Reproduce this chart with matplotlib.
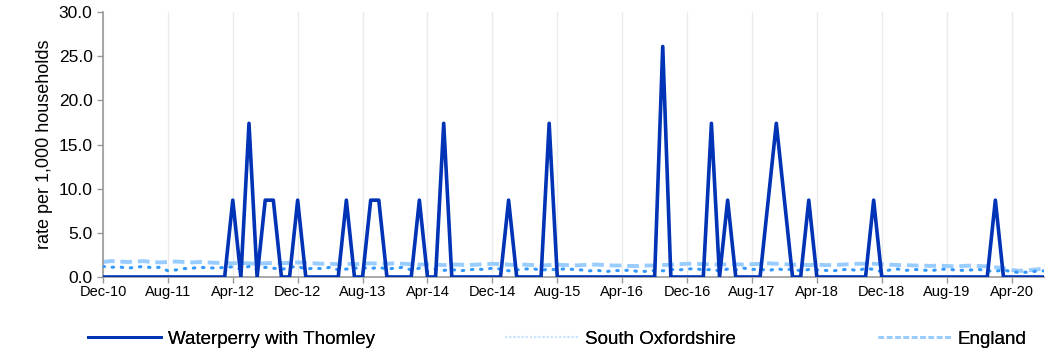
import numpy as np
import matplotlib.pyplot as plt
from matplotlib.lines import Line2D

plt.rcParams['font.family'] = ['Liberation Sans', 'DejaVu Sans']

# monthly series, Dec-10 .. Aug-20
tick_labels = ['Dec-10', 'Aug-11', 'Apr-12', 'Dec-12', 'Aug-13', 'Apr-14', 'Dec-14', 'Aug-15',
               'Apr-16', 'Dec-16', 'Aug-17', 'Apr-18', 'Dec-18', 'Aug-19', 'Apr-20']

waterperry = [
    0, 0, 0, 0, 0, 0, 0, 0, 0, 0, 0, 0,
    0, 0, 0, 0, 8.7, 0, 17.4, 0, 8.7, 8.7, 0, 0,
    8.7, 0, 0, 0, 0, 0, 8.7, 0, 0, 8.7, 8.7, 0,
    0, 0, 0, 8.7, 0, 0, 17.4, 0, 0, 0, 0, 0,
    0, 0, 8.7, 0, 0, 0, 0, 17.4, 0, 0, 0, 0,
    0, 0, 0, 0, 0, 0, 0, 0, 0, 26.1, 0, 0,
    0, 0, 0, 17.4, 0, 8.7, 0, 0, 0, 0, 8.7, 17.4,
    8.7, 0, 0, 8.7, 0, 0, 0, 0, 0, 0, 0, 8.7,
    0, 0, 0, 0, 0, 0, 0, 0, 0, 0, 0, 0,
    0, 0, 8.7, 0, 0, 0, 0, 0, 0,
]

south_oxon = [
    1.2, 1.1, 1.15, 1.0, 1.1, 1.2, 1.05, 1.1, 0.7, 0.8, 0.95, 1.0,
    1.1, 1.05, 1.0, 1.1, 1.15, 0.9, 1.2, 0.8, 1.1, 1.0, 0.85, 1.1,
    1.2, 0.9, 1.0, 0.95, 1.1, 0.8, 0.9, 1.0, 1.05, 0.95, 1.1, 0.9,
    1.0, 1.1, 0.8, 1.0, 0.6, 0.9, 0.75, 0.85, 0.7, 0.8, 0.9, 0.85,
    1.0, 0.9, 0.7, 0.8, 0.9, 0.95, 0.75, 0.9, 0.8, 0.95, 0.85, 0.8,
    0.7, 0.75, 0.6, 0.75, 0.7, 0.8, 0.6, 0.65, 0.75, 0.7, 0.85, 0.8,
    0.9, 0.95, 0.8, 0.85, 0.7, 0.9, 0.8, 1.0, 0.85, 0.9, 0.7, 0.95,
    0.8, 0.9, 0.7, 0.85, 0.8, 0.75, 0.7, 0.8, 0.9, 0.7, 1.0, 0.85,
    0.6, 0.8, 0.9, 0.75, 0.85, 0.8, 0.7, 0.85, 0.9, 0.8, 0.75, 0.8,
    0.85, 0.7, 0.65, 0.8, 0.6, 0.5, 0.55, 0.65, 0.7,
]

england = [
    1.7, 1.8, 1.75, 1.7, 1.75, 1.8, 1.7, 1.65, 1.7, 1.75, 1.7, 1.65,
    1.7, 1.65, 1.6, 1.6, 1.55, 1.6, 1.55, 1.5, 1.55, 1.6, 1.55, 1.6,
    1.65, 1.6, 1.55, 1.5, 1.5, 1.45, 1.5, 1.45, 1.5, 1.55, 1.5, 1.5,
    1.55, 1.5, 1.45, 1.4, 1.45, 1.4, 1.35, 1.4, 1.4, 1.35, 1.4, 1.45,
    1.5, 1.45, 1.4, 1.35, 1.4, 1.35, 1.3, 1.35, 1.4, 1.35, 1.3, 1.35,
    1.4, 1.4, 1.35, 1.3, 1.3, 1.25, 1.25, 1.3, 1.3, 1.35, 1.4, 1.45,
    1.5, 1.5, 1.45, 1.45, 1.4, 1.45, 1.45, 1.4, 1.45, 1.5, 1.55, 1.5,
    1.45, 1.4, 1.4, 1.35, 1.4, 1.35, 1.35, 1.4, 1.45, 1.5, 1.5, 1.5,
    1.45, 1.4, 1.35, 1.35, 1.3, 1.3, 1.25, 1.3, 1.25, 1.2, 1.25, 1.3,
    1.25, 1.2, 1.1, 1.0, 0.8, 0.7, 0.75, 0.85, 0.95,
]

x = np.arange(len(waterperry))

fig = plt.figure(figsize=(10.55, 3.54), dpi=100)
ax = fig.add_axes([0.0976, 0.2175, 0.892, 0.7485])

ax.plot(x, england, color='#99ccff', lw=2.8, ls=(0, (3, 1.5)), zorder=2)
ax.plot(x, south_oxon, color='#3399ff', lw=2.2, ls=(0, (0.5, 2.5)), dash_capstyle='round', zorder=3)
ax.plot(x, waterperry, color='#0033b5', lw=2.6, zorder=4)

ax.set_xlim(0, len(x) - 1)
ax.set_ylim(0, 30)
ax.set_yticks(np.arange(0, 31, 5))
ax.set_yticklabels(['%.1f' % v for v in np.arange(0, 31, 5)], fontsize=12.5)
ax.set_xticks(np.arange(0, len(x), 8))
ax.set_xticklabels(tick_labels, fontsize=10.5)
ax.set_ylabel('rate per 1,000 households', fontsize=13)

ax.grid(axis='x', color='#ebebeb', lw=1)
ax.set_axisbelow(True)
for s in ['top', 'right']:
    ax.spines[s].set_visible(False)
for s in ['left', 'bottom']:
    ax.spines[s].set_color('#999999')
    ax.spines[s].set_linewidth(1.2)
ax.tick_params(axis='both', colors='#999999', labelcolor='black', length=4, width=1)
ax.tick_params(axis='x', pad=2)

# legend entries placed individually along the bottom
labels = ['Waterperry with Thomley', 'South Oxfordshire', 'England']
handles = [
    Line2D([], [], color='#0033b5', lw=2),
    Line2D([], [], color='#cce4ff', lw=1.5, ls=(0, (1, 1))),
    Line2D([], [], color='#99ccff', lw=2, ls=(0, (2, 1))),
]
legend_x = [0.0834, 0.4787, 0.832]
for h, lab, lx in zip(handles, labels, legend_x):
    leg = fig.legend([h], [lab], loc='center left', bbox_to_anchor=(lx, 0.042),
                     frameon=False, fontsize=13.5, handlelength=3.9, handletextpad=0.35,
                     borderpad=0, borderaxespad=0)
    fig.add_artist(leg)

fig.savefig('out.png', dpi=100)
